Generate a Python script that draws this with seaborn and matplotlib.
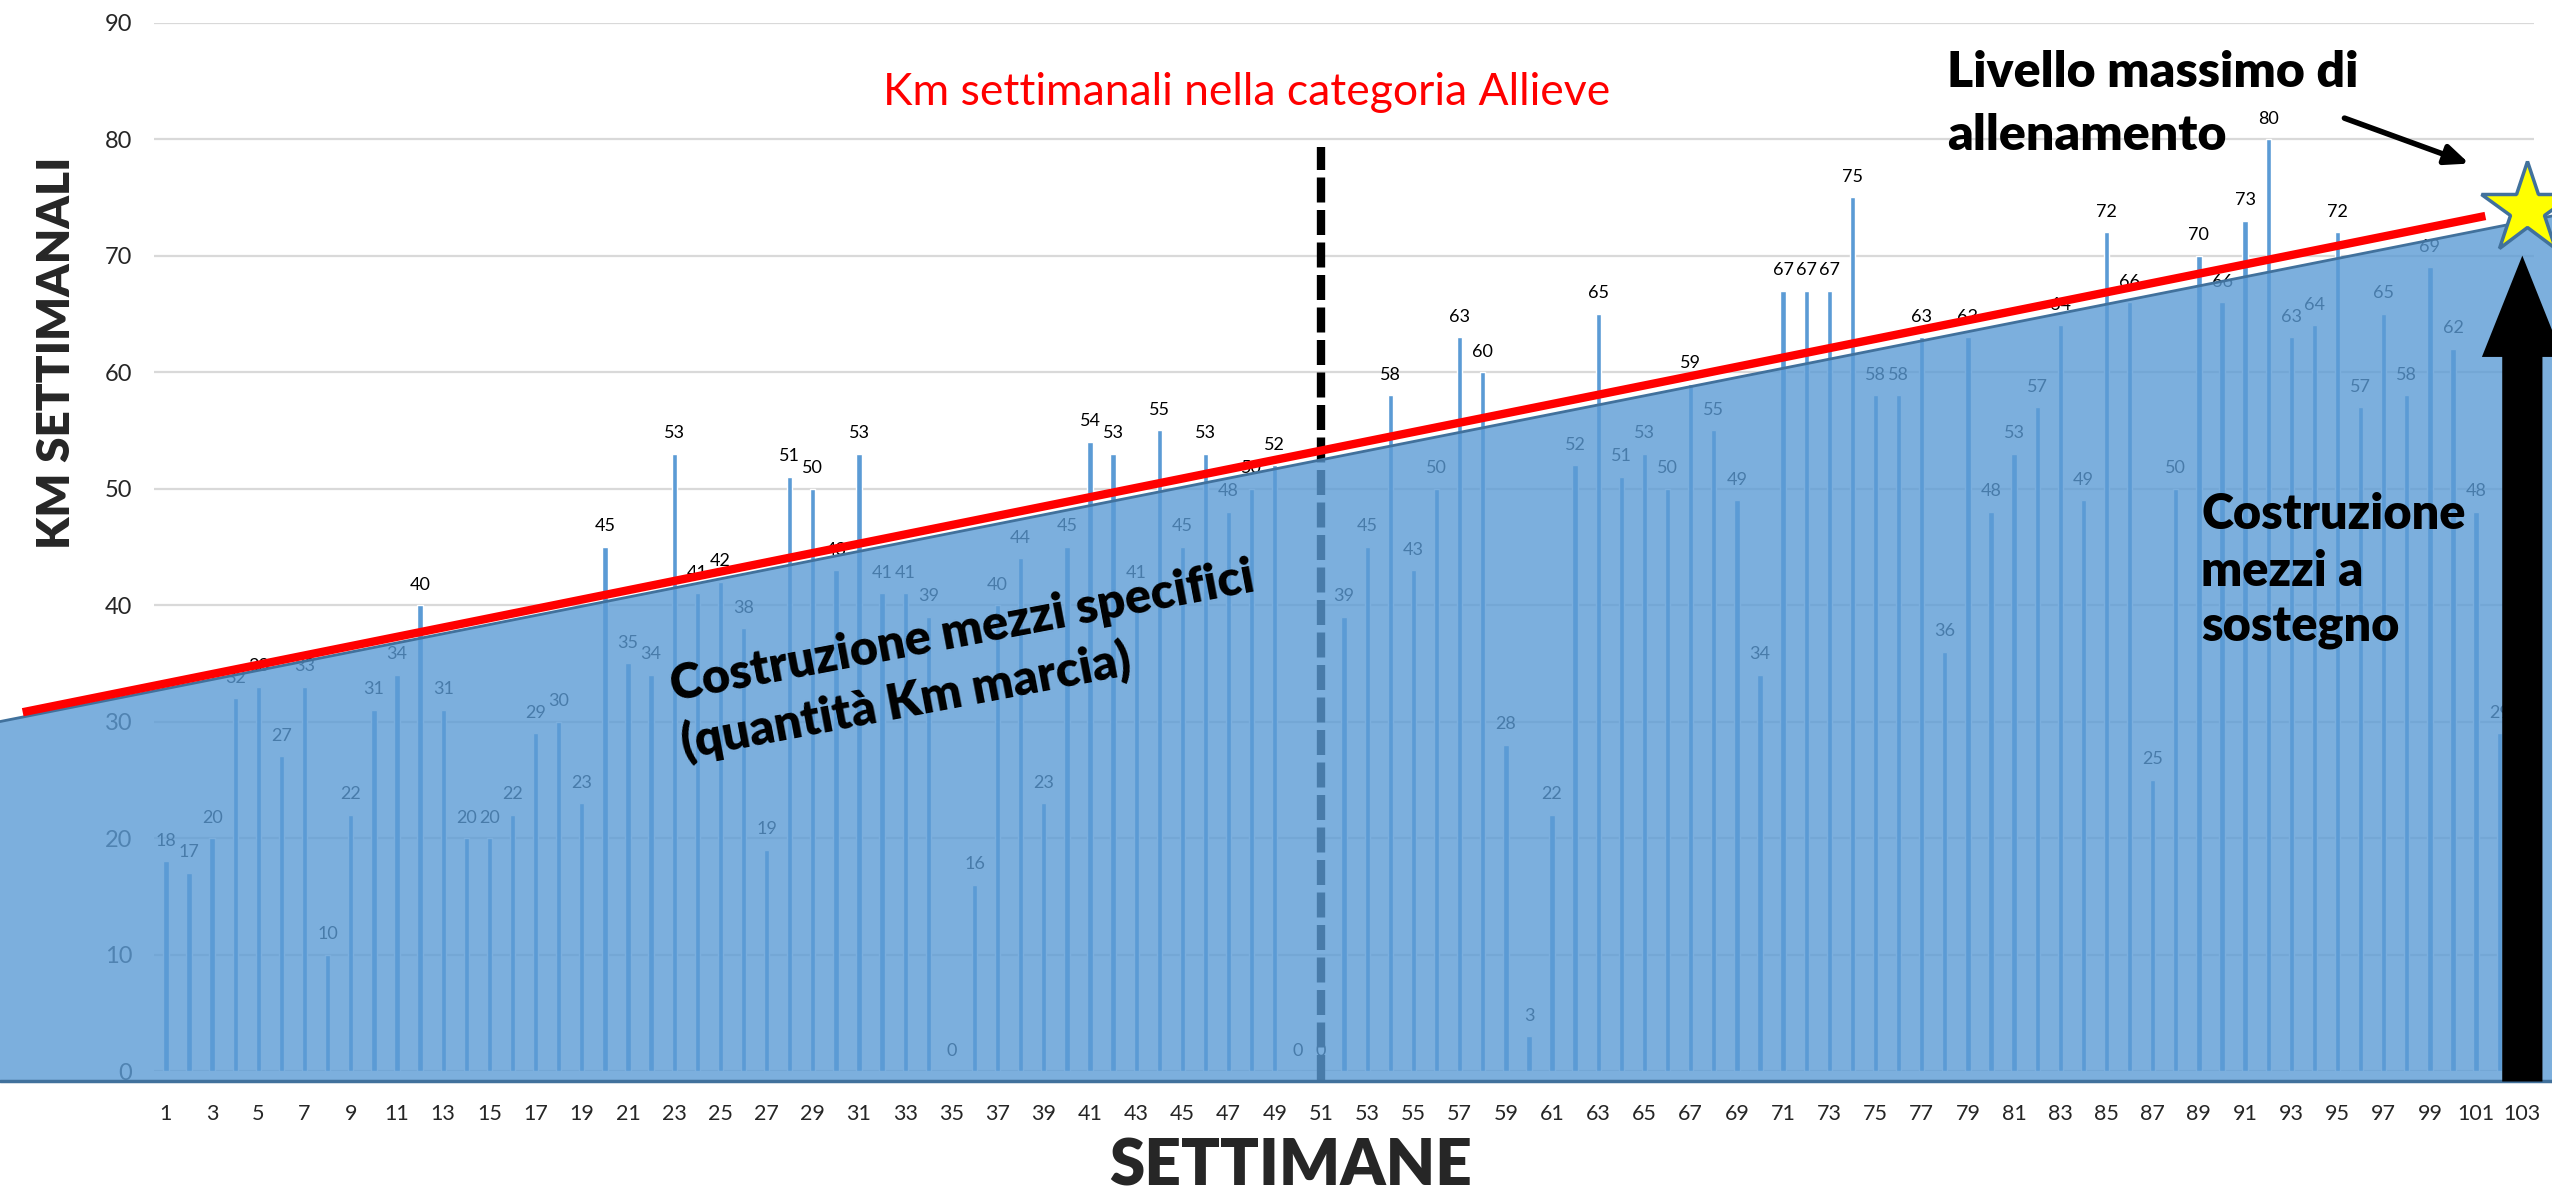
import numpy as np
import pandas as pd
import matplotlib.pyplot as plt
import matplotlib.patches as mpatches
from matplotlib.transforms import blended_transform_factory
import seaborn as sns

# Dati: km settimanali per settimana (1..103)
weeks = list(range(1, 104))
km = [18, 17, 20, 32, 33, 27, 33, 10, 22, 31,
      34, 40, 31, 20, 20, 22, 29, 30, 23, 45,
      35, 34, 53, 41, 42, 38, 19, 51, 50, 43,
      53, 41, 41, 39, 0, 16, 40, 44, 23, 45,
      54, 53, 41, 55, 45, 53, 48, 50, 52, 0,
      0, 39, 45, 58, 43, 50, 63, 60, 28, 3,
      22, 52, 65, 51, 53, 50, 59, 55, 49, 34,
      67, 67, 67, 75, 58, 58, 63, 36, 63, 48,
      53, 57, 64, 49, 72, 66, 25, 50, 70, 66,
      73, 80, 63, 64, 72, 57, 65, 58, 69, 62,
      48, 29, np.nan]
tick_weeks = weeks[::2]

# annotazioni
trend_area = (30.0, 73.4)       # bordo superiore dell'area: sinistra / destra figura
trend_red_x = (-6.2, 100.4)
trend_red_y = (30.8, 73.4)
split_week = 51
split_top = 79.3
peak_pos = (102.2, 74.0)

df = pd.DataFrame({'settimana': weeks, 'km': km})

sns.set_style("white")
plt.rcParams['font.family'] = ['Lato', 'DejaVu Sans']

fig = plt.figure(figsize=(25.52, 11.96), dpi=100)
ax = fig.add_axes([0.0605, 0.1045, 0.9324, 0.8766])

blue = '#5b9bd5'
edge = '#41719c'

sns.barplot(data=df, x='settimana', y='km', order=weeks, color=blue,
            saturation=1, width=0.23, ax=ax, zorder=2)
cont = ax.containers[0]
labels = [f'{v:g}' for v in cont.datavalues]
ax.bar_label(cont, labels=labels, padding=9, fontsize=13,
             color='black', zorder=3)

ax.set_xlim(-0.5, len(weeks) - 0.5)
ax.set_ylim(0, 90)
ax.set_yticks(range(0, 91, 10))
ax.set_xticks([w - 1 for w in tick_weeks])
ax.set_xticklabels([str(w) for w in tick_weeks])
ax.tick_params(axis='y', length=0, pad=16, labelsize=17)
ax.tick_params(axis='x', length=0, pad=24, labelsize=15.5)
ax.yaxis.grid(True, color='#d9d9d9', lw=1.6, zorder=0)
ax.set_axisbelow(True)
for s in ax.spines.values():
    s.set_visible(False)
ax.set_xlabel('')
ax.set_ylabel('')

# linea tratteggiata di separazione
ax.plot([split_week - 1, split_week - 1], [-0.8, split_top], color='black',
        lw=6, dashes=(3, 0.9), zorder=3, clip_on=False, solid_capstyle='butt')

# area di costruzione (sovrapposta, semitrasparente)
tr = blended_transform_factory(fig.transFigure, ax.transData)
area = mpatches.Polygon([(0, -0.83), (0, trend_area[0]), (1, trend_area[1]), (1, -0.83)],
                        closed=True, transform=tr, facecolor=blue, alpha=0.8,
                        edgecolor='none', zorder=4, clip_on=False)
ax.add_patch(area)
ax.plot([0, 1], [trend_area[0], trend_area[1]], transform=tr, color=edge,
        lw=2, zorder=4.5, clip_on=False)
ax.plot([0, 1], [-0.83, -0.83], transform=tr, color=edge, lw=2.5,
        zorder=4.5, clip_on=False)

# linea rossa di tendenza
ax.plot(trend_red_x, trend_red_y, color='#ff0000', lw=6, zorder=5,
        clip_on=False, solid_capstyle='butt')

# freccia nera verticale
p = 102
arrow = mpatches.Polygon([(p - 0.87, -0.9), (p - 0.87, 61.3), (p - 1.75, 61.3),
                          (p, 70.0), (p + 1.75, 61.3), (p + 0.87, 61.3),
                          (p + 0.87, -0.9)], closed=True, facecolor='black',
                         edgecolor='none', zorder=6, clip_on=False)
ax.add_patch(arrow)

# stella
ax.plot([peak_pos[0]], [peak_pos[1]], marker='*', ms=69, mfc='#ffff00',
        mec=edge, mew=2.5, zorder=7, clip_on=False)

# freccia verso la stella
ax.annotate('', xy=(99.7, 77.9), xytext=(94.3, 81.8),
            arrowprops=dict(arrowstyle='-|>,head_length=1.4,head_width=0.6',
                            color='black', lw=4, shrinkA=0, shrinkB=0),
            annotation_clip=False, zorder=7)

# testi
ax.text(46.8, 84.0, 'Km settimanali nella categoria Allieve', color='#ff0000',
        fontsize=32, ha='center', va='center', zorder=8)
ax.text(77.1, 85.7, 'Livello massimo di', fontsize=36,
        fontweight='heavy', color='black', ha='left', va='center', zorder=8)
ax.text(77.1, 80.3, 'allenamento', fontsize=36,
        fontweight='heavy', color='black', ha='left', va='center', zorder=8)
ax.text(88.1, 42.9, 'Costruzione\nmezzi a\nsostegno', fontsize=35,
        fontweight='heavy', color='black', ha='left', va='center',
        linespacing=1.3, zorder=8)
ax.text(34.7, 35.2, 'Costruzione mezzi specifici\n(quantità Km marcia)',
        fontsize=35, fontweight='heavy', color='black', ha='center',
        va='center', rotation=10.7, rotation_mode='anchor',
        multialignment='left', linespacing=1.3, zorder=8)

fig.text(0.0223, 0.7048, 'KM SETTIMANALI', rotation=90, fontsize=33,
         fontweight='heavy', ha='center', va='center')
fig.text(0.5059, 0.0242, 'SETTIMANE', fontsize=46, fontweight='heavy',
         ha='center', va='center')

fig.savefig('out.png', dpi=100)
